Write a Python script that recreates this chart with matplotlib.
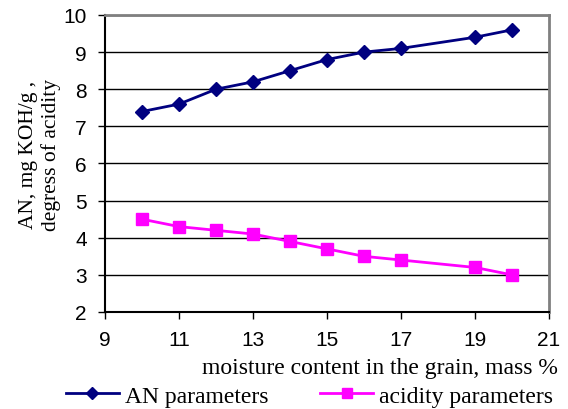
import matplotlib
matplotlib.use('Agg')
from matplotlib import pyplot as plt

moisture = [10, 11, 12, 13, 14, 15, 16, 17, 19, 20]
an_values = [7.4, 7.6, 8.0, 8.2, 8.5, 8.8, 9.0, 9.1, 9.4, 9.6]
acidity_values = [4.5, 4.3, 4.2, 4.1, 3.9, 3.7, 3.5, 3.4, 3.2, 3.0]
xticks = [9, 11, 13, 15, 17, 19, 21]
yticks = [2, 3, 4, 5, 6, 7, 8, 9, 10]

fig = plt.figure(figsize=(5.68, 4.10), dpi=100)
ax = fig.add_axes([0.1849, 0.2366, 0.7816, 0.7244])

l1, = ax.plot(moisture, an_values, color='#000080', lw=2, marker='D', ms=7.5,
              label='AN parameters', clip_on=False)
l2, = ax.plot(moisture, acidity_values, color='#FF00FF', lw=2, marker='s', ms=8.5,
              label='acidity parameters', clip_on=False)

ax.set_xlim(9, 21)
ax.set_ylim(2, 10)
ax.set_xticks(xticks)
ax.set_yticks(yticks)
ax.tick_params(labelsize=15, length=5, width=1, direction='out', colors='black')
for lab in ax.get_xticklabels() + ax.get_yticklabels():
    lab.set_family('Liberation Sans')
ax.tick_params(axis='x', pad=8)
ax.tick_params(axis='y', pad=8)
ax.grid(axis='y', color='black', lw=1)
ax.set_axisbelow(True)

ax.spines['left'].set_color('black')
ax.spines['bottom'].set_color('black')
ax.spines['left'].set_linewidth(1.5)
ax.spines['bottom'].set_linewidth(1.5)
ax.spines['top'].set_color('#808080')
ax.spines['right'].set_color('#808080')
ax.spines['top'].set_linewidth(2)
ax.spines['right'].set_linewidth(2)

ax.set_xlabel('moisture content in the grain, mass %', family='Liberation Serif',
              fontsize=17, loc='right')
ax.xaxis.set_label_coords(1.02, -0.15)
ax.set_ylabel('AN, mg KOH/g ,\ndegress of acidity', family='Liberation Serif',
              fontsize=15.5, linespacing=1.15)
ax.yaxis.set_label_coords(-0.1, 0.532)

fig.legend(handles=[l1, l2], loc='center', bbox_to_anchor=(0.545, 0.032), ncol=2,
           frameon=False, prop={'family': 'Liberation Serif', 'size': 17},
           handlelength=2.25, columnspacing=2.2, handletextpad=0.25, markerscale=0.8)

fig.savefig('out.png', dpi=100)
